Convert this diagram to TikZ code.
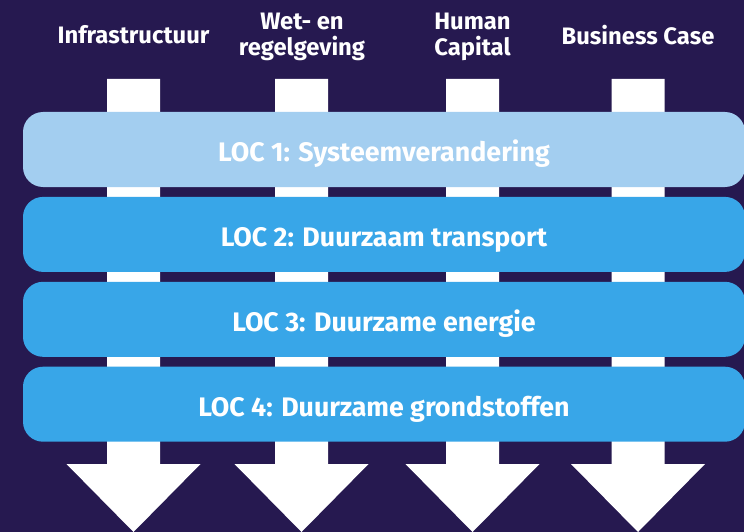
\documentclass[tikz,border=0pt]{standalone}
\usepackage{fontspec}
\setmainfont{Fira Sans}
\definecolor{mynavy}{HTML}{261950}
\definecolor{mylightblue}{HTML}{A3CEF0}
\definecolor{myblue}{HTML}{38A6E8}
\usetikzlibrary{positioning}
\tikzset{
	downarrow/.pic={
			\fill[white]
			(-26.5,0) --
			(26.5,0) --
			(26.5,385) --
			(67,385) --
			(0,453) --
			(-67,385) --
			(-26.5,385) --
			cycle;
		}
}
\tikzset{
	headtext/.style={font=\fontsize{23.8}{26}\selectfont\bfseries\color{white}, align=center}
}
\tikzset{
	locbar/.style={rounded corners=20pt, minimum width=722pt, minimum height=75pt, inner sep=0pt,
			text height=24pt, text depth=0pt,
			font=\fontsize{26.8}{30}\selectfont\bfseries\color{white}}
}

\begin{document}
\begin{tikzpicture}[x=1pt, y=-1pt]

			\fill[mynavy] (0,0) rectangle (744,532);
			\useasboundingbox (0,0) rectangle (744,532);

			\begin{scope}
				\node[headtext] (infra) at (133.5,35) {Infrastructuur};
				\node[headtext] (wet) at (302,37) {Wet- en\\regelgeving};
				\node[headtext] (human) at (472.5,37) {Human\\Capital};
				\node[headtext] (business) at (638,35) {Business Case};
			\end{scope}

			\begin{scope}
				\coordinate (aA) at (133.5,79);
				\coordinate (aB) at (301.5,79);
				\coordinate (aC) at (472.5,79);
				\coordinate (aD) at (638,79);

				\pic at (aA) {downarrow};
				\pic at (aB) {downarrow};
				\pic at (aC) {downarrow};
				\pic at (aD) {downarrow};
			\end{scope}

			\begin{scope}
				\node[locbar, fill=mylightblue] (loc1) at (384,149.5) {LOC 1: Systeemverandering};
				\node[locbar, fill=myblue, below=9.5pt of loc1] (loc2) {LOC 2: Duurzaam transport};
				\node[locbar, fill=myblue, below=9.5pt of loc2] (loc3) {LOC 3: Duurzame energie};
				\node[locbar, fill=myblue, below=9.5pt of loc3] (loc4) {LOC 4: Duurzame grondstoffen};
			\end{scope}

		\end{tikzpicture}
\end{document}
